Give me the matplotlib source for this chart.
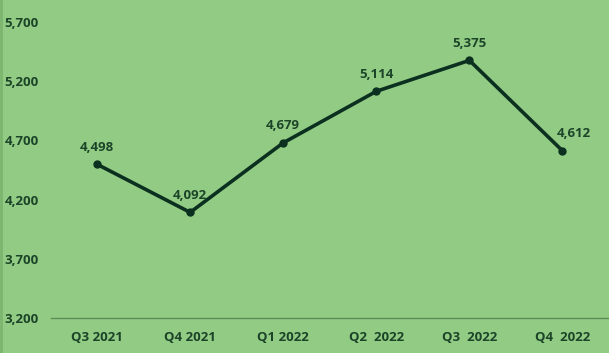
import matplotlib
matplotlib.use("Agg")
import matplotlib.pyplot as plt
from matplotlib.ticker import FuncFormatter

categories = ["Q3 2021", "Q4 2021", "Q1 2022", "Q2  2022", "Q3  2022", "Q4  2022"]
values = [4498, 4092, 4679, 5114, 5375, 4612]
yticks = [3200, 3700, 4200, 4700, 5200, 5700]

bg = "#92CC84"
line_c = "#0C3020"
text_c = "#1C4428"

plt.rcParams['font.family'] = ['Open Sans', 'DejaVu Sans']

fig = plt.figure(figsize=(6.09, 3.53), dpi=100, facecolor=bg)
ax = fig.add_axes([0.083, 0.099, 0.917, 0.839])
ax.set_facecolor(bg)
x = list(range(len(values)))
ax.plot(x, values, color=line_c, lw=2.6, marker='o', ms=5, zorder=3)
for i, (xi, v) in enumerate(zip(x, values)):
    dx = 8 if i == len(values) - 1 else 0
    ax.annotate(f"{v:,}", (xi, v), xytext=(dx, 7.5), textcoords='offset points',
                ha='center', va='bottom', fontsize=9.5, fontweight='bold', color=text_c)
ax.set_xlim(-0.5, len(values) - 0.5)
ax.set_ylim(3200, 5700)
ax.set_yticks(yticks)
ax.yaxis.set_major_formatter(FuncFormatter(lambda v, p: f"{int(v):,}"))
ax.set_xticks(x)
ax.set_xticklabels(categories)
for s in ['top', 'right', 'left']:
    ax.spines[s].set_visible(False)
ax.spines['bottom'].set_color('#5E8A58')
ax.spines['bottom'].set_linewidth(1.0)
ax.tick_params(axis='both', length=0, labelsize=9.5, labelcolor=text_c)
ax.tick_params(axis='x', pad=9)
for lab in ax.get_xticklabels() + ax.get_yticklabels():
    lab.set_fontweight('bold')
for lab in ax.get_yticklabels():
    lab.set_horizontalalignment('left')
ax.tick_params(axis='y', pad=33)
fig.add_artist(plt.Line2D([0.002, 0.002], [0, 1], color='#7BB56E', lw=2, transform=fig.transFigure))
fig.savefig("out.png", dpi=100, facecolor=bg)
